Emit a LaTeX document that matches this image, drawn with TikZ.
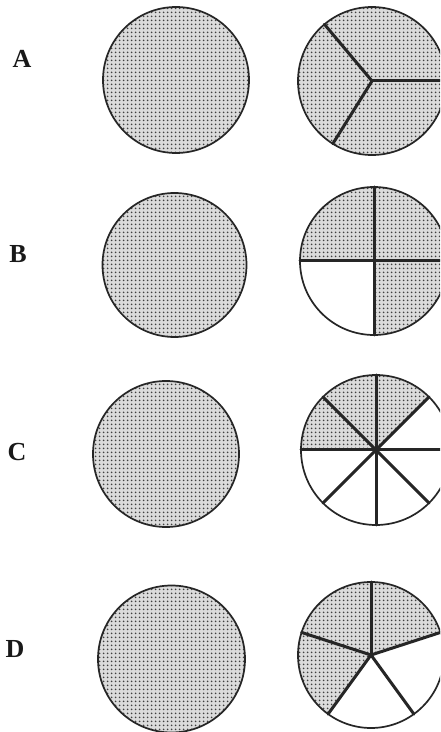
\documentclass[tikz,border=0pt]{standalone}
\usepackage{fontspec}
\setmainfont{Liberation Serif}
\usetikzlibrary{patterns.meta}
\pgfdeclarepattern{name=stipple, type=uncolored,
  bottom left={\pgfpoint{-2pt}{-2pt}}, top right={\pgfpoint{2pt}{2pt}},
  tile size={\pgfpoint{4pt}{4pt}},
  code={\pgfpathcircle{\pgfpointorigin}{1.2pt}\pgfusepath{fill}}}
\begin{document}
\begin{tikzpicture}[x=1pt,y=1pt,
  rim/.style={line width=1.7pt, draw=black!85},
  base fill/.style={fill=black!14},
  dotted fill/.style={pattern=stipple, pattern color=black!75},
  spoke/.style={line width=3pt, draw=black!85, line cap=round},
  letter/.style={font=\fontsize{26}{26}\selectfont\bfseries, text=black!90, inner sep=0pt}]
\clip (0,0) rectangle (440,732);
\fill[white] (0,0) rectangle (440,732);
% labels
\node[letter] (la) at (22,673) {A};
\node[letter] (lb) at (18,478) {B};
\node[letter] (lc) at (17,280) {C};
\node[letter] (ld) at (15,83) {D};
% left circles
\coordinate (a1) at (176,652);
\coordinate (b1) at (174.5,467);
\coordinate (c1) at (166,278);
\coordinate (d1) at (171.5,73);
\foreach \c/\r in {a1/73,b1/72,c1/73,d1/73.5}{
  \fill[base fill] (\c) circle (\r);
  \fill[dotted fill] (\c) circle (\r);
  \draw[rim] (\c) circle (\r);
}
% right circles
\coordinate (a2) at (372,651);
\coordinate (b2) at (374,471);
\coordinate (c2) at (376,282);
\coordinate (d2) at (371,77);
% A: thirds, all shaded
\fill[base fill] (a2) circle (74);
\fill[dotted fill] (a2) circle (74);
\draw[rim] (a2) circle (74);
\foreach \a in {0,130,238} \draw[spoke] (a2) -- ++(\a:74);
% B: quarters, 3 shaded
\fill[white] (b2) circle (74);
\fill[base fill] (b2) -- ++(270:74) arc (270:540:74) -- cycle;
\fill[dotted fill] (b2) -- ++(270:74) arc (270:540:74) -- cycle;
\draw[rim] (b2) circle (74);
\foreach \a in {0,90,180,270} \draw[spoke] (b2) -- ++(\a:74);
% C: eighths, 3 shaded
\fill[white] (c2) circle (75);
\fill[base fill] (c2) -- ++(45:75) arc (45:180:75) -- cycle;
\fill[dotted fill] (c2) -- ++(45:75) arc (45:180:75) -- cycle;
\draw[rim] (c2) circle (75);
\foreach \a in {0,45,...,315} \draw[spoke] (c2) -- ++(\a:75);
% D: fifths, 3 shaded
\fill[white] (d2) circle (73);
\fill[base fill] (d2) -- ++(18:73) arc (18:234:73) -- cycle;
\fill[dotted fill] (d2) -- ++(18:73) arc (18:234:73) -- cycle;
\draw[rim] (d2) circle (73);
\foreach \a in {18,90,162,234,306} \draw[spoke] (d2) -- ++(\a:73);
\end{tikzpicture}
\end{document}
